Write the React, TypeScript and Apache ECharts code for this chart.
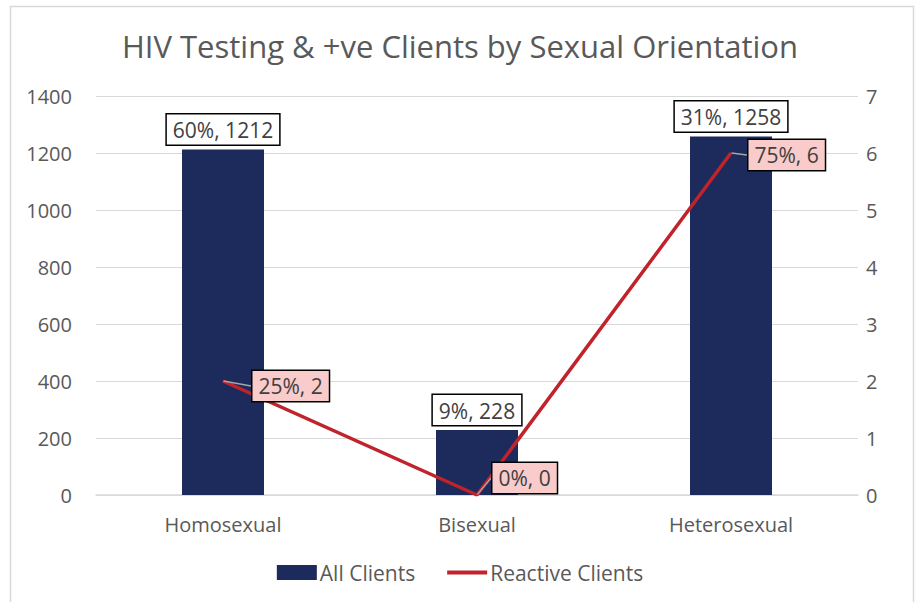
import React, { useEffect, useRef } from "react";
import * as echarts from "echarts";

const categories = ["Homosexual", "Bisexual", "Heterosexual"];
const allClients = [1212, 228, 1258];
const allClientsPct = ["60%", "9%", "31%"];
const reactiveClients = [2, 0, 6];
const reactivePct = ["25%", "0%", "75%"];
const leftTicks = { min: 0, max: 1400, interval: 200 };
const rightTicks = { min: 0, max: 7, interval: 1 };

const FONT = "Open Sans";
const TXT = "#595959";

export default function App() {
  const ref = useRef<HTMLDivElement>(null);
  useEffect(() => {
    document.body.style.margin = "0";
    const chart = echarts.init(ref.current!, null, { renderer: "svg" });
    const lineShift: Array<[number, number]> = [[24, 5], [10, -17], [12, 2]];
    chart.setOption({
      animation: false,
      backgroundColor: "#ffffff",
      textStyle: { fontFamily: FONT },
      title: {
        text: "HIV Testing & +ve Clients by Sexual Orientation",
        left: "center",
        top: 25,
        textStyle: { fontFamily: FONT, fontSize: 31, fontWeight: "normal", color: TXT },
      },
      graphic: [
        {
          type: "rect",
          shape: { x: 10.5, y: 6.5, width: 903, height: 620 },
          style: { fill: "none", stroke: "#d9d9d9", lineWidth: 1.5 },
          silent: true,
        },
      ],
      legend: {
        bottom: 14,
        left: "center",
        itemGap: 30,
        itemWidth: 40,
        itemHeight: 15,
        textStyle: { fontFamily: FONT, fontSize: 21, color: TXT, padding: [0, 0, 0, -2] },
        data: [
          { name: "All Clients", icon: "rect" },
          {
            name: "Reactive Clients",
            itemStyle: { opacity: 0 },
            lineStyle: { width: 4, color: "#c0232b" },
          },
        ],
      },
      grid: { left: 96, right: 62, top: 96, bottom: 107 },
      xAxis: {
        type: "category",
        data: categories,
        axisTick: { show: false },
        axisLine: { lineStyle: { color: "#d9d9d9", width: 1.5 } },
        axisLabel: { fontFamily: FONT, fontSize: 20, color: TXT, margin: 19 },
      },
      yAxis: [
        {
          type: "value",
          ...leftTicks,
          axisLabel: {
            fontFamily: FONT,
            fontSize: 20,
            color: TXT,
            margin: 24,
            formatter: (v: number) => String(v),
          },
          splitLine: { lineStyle: { color: "#d9d9d9", width: 1.2 } },
          axisLine: { show: false },
          axisTick: { show: false },
        },
        {
          type: "value",
          ...rightTicks,
          axisLabel: {
            fontFamily: FONT,
            fontSize: 20,
            color: TXT,
            margin: 8,
            formatter: (v: number) => String(v),
          },
          splitLine: { show: false },
          axisLine: { show: false },
          axisTick: { show: false },
        },
      ],
      series: [
        {
          name: "All Clients",
          type: "bar",
          yAxisIndex: 0,
          barWidth: 82,
          itemStyle: { color: "#1d2a5c" },
          data: allClients.map((v) => v),
          label: {
            show: true,
            position: "top",
            distance: 5,
            formatter: (p: any) => `${allClientsPct[p.dataIndex]}, ${allClients[p.dataIndex]}`,
            fontFamily: FONT,
            fontSize: 21,
            color: "#404040",
            backgroundColor: "#ffffff",
            borderColor: "#000000",
            borderWidth: 1.5,
            padding: [5, 6, 4, 6],
          },
        },
        {
          name: "Reactive Clients",
          type: "line",
          yAxisIndex: 1,
          symbol: "circle",
          symbolSize: 1,
          showSymbol: true,
          lineStyle: { color: "#c0232b", width: 3.5 },
          itemStyle: { color: "rgba(192,35,43,0)" },
          data: reactiveClients.map((v) => v),
          label: {
            show: true,
            position: "right",
            distance: 5,
            formatter: (p: any) => `${reactivePct[p.dataIndex]}, ${reactiveClients[p.dataIndex]}`,
            fontFamily: FONT,
            fontSize: 21,
            color: "#404040",
            backgroundColor: "#f9cbcb",
            borderColor: "#000000",
            borderWidth: 1.5,
            padding: [5, 6, 4, 6],
          },
          labelLine: { show: true, lineStyle: { color: "#a6a6a6", width: 1.5 } },
          labelLayout: (p: any) => ({ dx: lineShift[p.dataIndex][0], dy: lineShift[p.dataIndex][1] }),
        },
      ],
    });
    return () => chart.dispose();
  }, []);
  return (
    <div
      ref={ref}
      style={{ position: "absolute", left: 0, top: 0, width: 920, height: 602 }}
    />
  );
}
